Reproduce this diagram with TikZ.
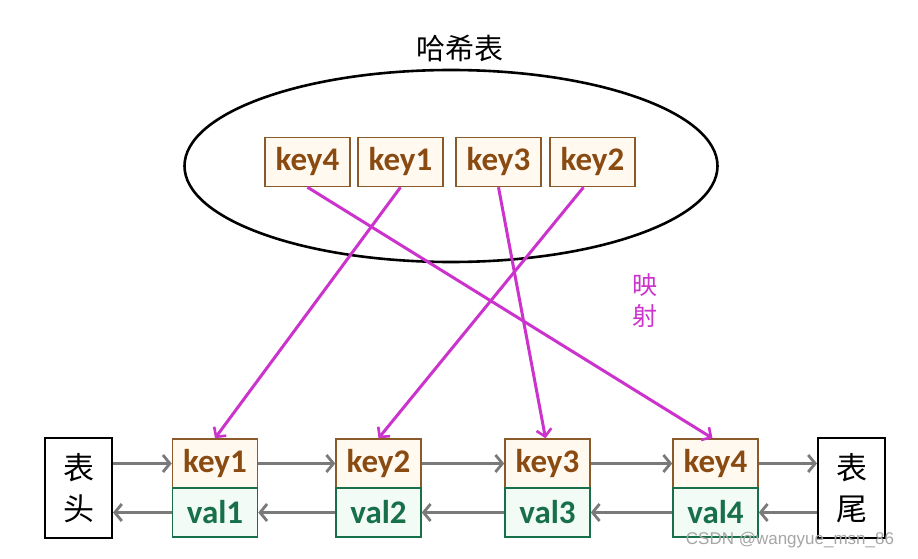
\documentclass[tikz,border=0pt]{standalone}
\usepackage{fontspec}
\setmainfont{Carlito}
\setsansfont{Liberation Sans}
\newfontfamily\cjk{Noto Sans CJK SC}
\usetikzlibrary{arrows.meta,shapes.geometric}

\definecolor{chiave}{HTML}{8A4B12}
\definecolor{bordochiave}{HTML}{8B5A2B}
\definecolor{fondochiave}{HTML}{FFF9F0}
\definecolor{valore}{HTML}{17704A}
\definecolor{fondovalore}{HTML}{F2FBF6}
\definecolor{mappa}{HTML}{CC33CC}
\definecolor{freccia}{HTML}{7A7A7A}

\tikzset{
  keybox/.style={draw=bordochiave, fill=fondochiave, line width=1.5pt,
    minimum width=85pt, minimum height=49pt, inner sep=0pt, text=chiave,
    font=\fontsize{33}{35}\selectfont\bfseries},
  valbox/.style={keybox, draw=valore, fill=fondovalore, text=valore},
  endbox/.style={draw=black, line width=2pt, fill=white, minimum width=67pt,
    minimum height=100pt, align=center, font=\cjk\fontsize{31}{41}\selectfont},
  link/.style={draw=freccia, line width=3.5pt,
    -{Straight Barb[length=7pt,width=17pt,line width=2.8pt]}},
  map/.style={draw=mappa, line width=3pt,
    -{Straight Barb[length=7pt,width=15pt,line width=2.6pt]}},
}

\begin{document}
\begin{tikzpicture}[x=1pt,y=-1pt]
    \useasboundingbox[fill=white] (0,0) rectangle (918,559);

    % Tabella hash in alto
    \node[draw, ellipse, line width=2.6pt, minimum width=533pt, minimum height=192pt,
      inner sep=0pt] (tabella) at (451,166) {};
    \node[font=\cjk\fontsize{29}{31}\selectfont] (titolo) at (460,48) {哈希表};
    \node[keybox] (hk4) at (307.5,162) {key4};
    \node[keybox] (hk1) at (400.5,162) {key1};
    \node[keybox] (hk3) at (498.5,162) {key3};
    \node[keybox] (hk2) at (592.5,162) {key2};

    % Lista doppiamente collegata in basso
    \node[endbox] (testa) at (78.5,488) {表\\头};
    \node[keybox] (lk1) at (215,463.5) {key1};
    \node[valbox] (lv1) at (215,512.5) {val1};
    \node[keybox] (lk2) at (378.5,463.5) {key2};
    \node[valbox] (lv2) at (378.5,512.5) {val2};
    \node[keybox] (lk3) at (547.5,463.5) {key3};
    \node[valbox] (lv3) at (547.5,512.5) {val3};
    \node[keybox] (lk4) at (715.5,463.5) {key4};
    \node[valbox] (lv4) at (715.5,512.5) {val4};
    \node[endbox] (coda) at (851.5,488) {表\\尾};

    % Collegamenti in avanti
    \draw[link] (testa.east |- lk1.west) -- (lk1.west);
    \draw[link] (lk1.east) -- (lk2.west);
    \draw[link] (lk2.east) -- (lk3.west);
    \draw[link] (lk3.east) -- (lk4.west);
    \draw[link] (lk4.east) -- (coda.west |- lk4.east);

    % Collegamenti all'indietro
    \draw[link] (coda.west |- lv4.east) -- (lv4.east);
    \draw[link] (lv4.west) -- (lv3.east);
    \draw[link] (lv3.west) -- (lv2.east);
    \draw[link] (lv2.west) -- (lv1.east);
    \draw[link] (lv1.west) -- (testa.east |- lv1.west);

    % Mappatura chiave -> nodo
    \draw[map] (hk4.south) -- ([xshift=-3pt]lk4.north);
    \draw[map] (hk1.south) -- (lk1.north);
    \draw[map] (hk3.south) -- ([xshift=-2pt]lk3.north);
    \draw[map] ([xshift=-9pt]hk2.south) -- (lk2.north);
    \node[text=mappa, align=center, font=\cjk\fontsize{25}{31}\selectfont] (mappatura) at (645,301) {映\\射};

    \node[text=gray!70, font=\sffamily\fontsize{17}{19}\selectfont] (firma) at (790,540) {CSDN @wangyue\_msn\_86};
\end{tikzpicture}
\end{document}
